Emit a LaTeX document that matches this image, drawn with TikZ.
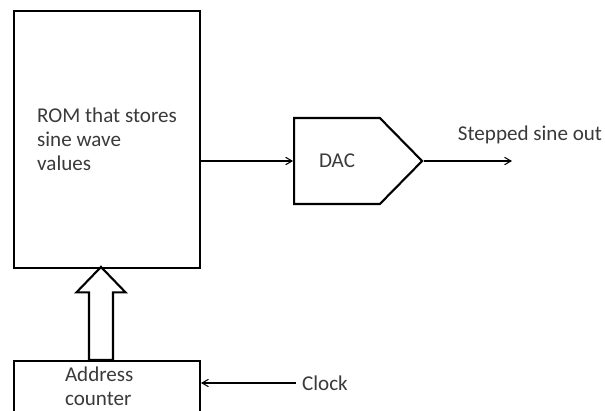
\documentclass[tikz,border=0pt]{standalone}
\usepackage{fontspec}
\setmainfont{Carlito}
\usepackage{tikz}
\usetikzlibrary{
	arrows,shapes.symbols,shapes.arrows
}
\definecolor{txt}{HTML}{3A3A3A}

\begin{document}
\begin{tikzpicture}[x=0.02cm,y=-0.02cm,
	every node/.style={font=\fontsize{12}{13.7}\selectfont,text=txt},
	blk/.style={draw,line width=1.2pt}]
	\useasboundingbox (0,0) rectangle (605,410);
	\clip (0,0) rectangle (605,410);
	\node[blk,minimum width=3.72cm,minimum height=5.14cm,align=left] (ROM) at (107,139.5) {ROM that stores\\sine wave\\values};
	\node[blk,signal,signal to=east,signal pointer angle=91,
		minimum width=2.56cm,minimum height=1.72cm] (DAC) at (337,161) {DAC};
	\node[blk,minimum width=3.72cm,minimum height=1.02cm,inner xsep=1.02cm,
		text width=1.68cm,align=left] (CNT) at (107,386.5) {Address\\counter};
	\node (CLK) at (325,383) {Clock};
	\node (OUT) at (530,135) {Stepped sine out};
	\coordinate (END) at (512,161);
	%
	%  ADDRESS BUS
	%
	\node[blk,single arrow,rotate=90,anchor=tail,minimum height=1.86cm,
		minimum width=0.94cm,inner sep=0.22cm,single arrow head extend=0.25cm,
		single arrow tip angle=88] (BUS) at (101,361) {};
	%
	\path[->,>=angle 60,line width=0.6pt]
	(ROM.east |- DAC.west) edge (DAC.west)
	(DAC.east) edge (END)
	(CLK.west) edge (CNT.east |- CLK.west);
\end{tikzpicture}
\end{document}
